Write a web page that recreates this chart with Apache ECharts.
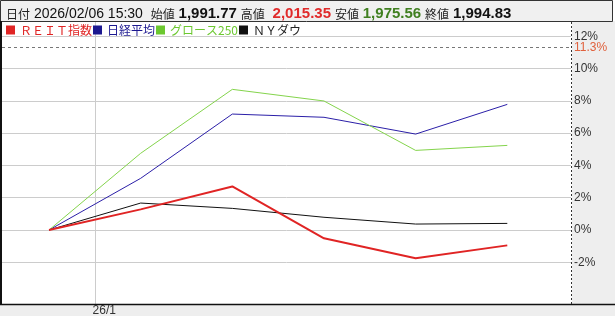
<!DOCTYPE html>
<html>
<head>
<meta charset="utf-8">
<script src="https://cdn.jsdelivr.net/npm/echarts@6/dist/echarts.min.js"></script>
<style>
html,body{margin:0;padding:0;background:#fff;}
#c{width:615px;height:316px;}
</style>
</head>
<body>
<div id="c"></div>
<script>
// ---- data ----
const seriesNames = ['ＲＥＩＴ指数', '日経平均', 'グロース250', 'ＮＹダウ'];
const pointIndex = [0, 1, 2, 3, 4, 5];
const reit   = [0, 1.28, 2.70, -0.51, -1.75, -0.95];
const nikkei = [0, 3.20, 7.18, 6.98, 5.94, 7.78];
const growth = [0, 4.75, 8.71, 7.99, 4.93, 5.24];
const nydow  = [0, 1.67, 1.34, 0.79, 0.37, 0.41];
const yTicks = [-2, 0, 2, 4, 6, 8, 10, 12];
const refLevel = [11.3];
const xTickValues = [0.51];
const xTickLabels = ['26/1'];
const header = {
  date: '2026/02/06 15:30',
  open: '1,991.77', high: '2,015.35', low: '1,975.56', close: '1,994.83'
};

const colors = ['#e02424', '#2b1fa8', '#84d44c', '#111111'];
const legendTextColors = ['#e02424', '#1c1890', '#6cc830', '#222222'];
const seriesData = [reit, nikkei, growth, nydow];

const chart = echarts.init(document.getElementById('c'), null, {renderer: 'canvas'});

const latin = '"Liberation Sans", Arial, sans-serif';
const cjk = '"Noto Sans CJK JP", sans-serif';

const series = seriesData.map((arr, k) => ({
  name: seriesNames[k],
  type: 'line',
  data: pointIndex.map((x, i) => [x, arr[i]]),
  symbol: 'none',
  z: k === 0 ? 4 : 3 - (k === 3 ? 0 : 0),
  lineStyle: {color: colors[k], width: k === 0 ? 2 : 1},
  itemStyle: {color: colors[k]},
  emphasis: {disabled: true}
}));

// helper series for gridlines / labels
series.push({
  name: '__grid',
  type: 'line',
  data: [],
  silent: true,
  markLine: {
    silent: true,
    symbol: 'none',
    z: 1,
    animation: false,
    data: [
      ...yTicks.map(v => ({
        yAxis: v,
        lineStyle: {color: '#cccccc', width: 1, type: 'solid'},
        label: {
          show: true, position: 'end', distance: 3,
          formatter: v + '%', color: '#333', fontSize: 12,
          fontFamily: latin, padding: [3, 0, 0, 0]
        }
      })),
      ...refLevel.map(v => ({
        yAxis: v,
        lineStyle: {color: '#777', width: 1, type: [3, 3]},
        label: {
          show: true, position: 'end', distance: 3,
          formatter: v + '%', color: '#e0603c', fontSize: 12,
          fontFamily: latin, padding: [3, 0, 0, 0]
        }
      })),
      ...xTickValues.map((v, i) => ({
        xAxis: v,
        lineStyle: {color: '#cccccc', width: 1, type: 'solid'},
        label: {
          show: true, position: 'start', distance: 1,
          formatter: xTickLabels[i], color: '#333', fontSize: 12,
          fontFamily: latin, padding: [0, 0, 0, 17]
        }
      }))
    ]
  }
});

const option = {
  animation: false,
  backgroundColor: '#fff',
  title: {
    left: 6, top: 5, padding: 0,
    text: '{j|日付} {n|' + header.date + '}  {j|始値} {b|' + header.open +
          '} {j|高値}  {r|' + header.high + '} {j|安値} {g|' + header.low +
          '} {j|終値} {b|' + header.close + '}',
    textStyle: {
      fontSize: 14, fontFamily: latin, color: '#222', fontWeight: 'normal',
      rich: {
        j: {fontFamily: cjk, fontSize: 12, color: '#222', lineHeight: 18},
        n: {fontFamily: latin, fontSize: 14, color: '#111', lineHeight: 18},
        b: {fontFamily: latin, fontSize: 15, fontWeight: 'bold', color: '#111', lineHeight: 18},
        r: {fontFamily: latin, fontSize: 15, fontWeight: 'bold', color: '#e02a2a', lineHeight: 18},
        g: {fontFamily: latin, fontSize: 15, fontWeight: 'bold', color: '#3f7f1f', lineHeight: 18}
      }
    }
  },
  legend: {
    left: 6, top: 24, padding: 0,
    itemWidth: 9, itemHeight: 9, itemGap: 1,
    icon: 'rect',
    selectedMode: false,
    data: seriesNames.map((n, k) => ({
      name: n,
      itemStyle: {color: colors[k] === '#84d44c' ? '#6cc830' : (k === 1 ? '#1c1890' : colors[k])},
      textStyle: {color: legendTextColors[k]}
    })),
    textStyle: {fontSize: 12, fontFamily: cjk, backgroundColor: '#fff'}
  },
  grid: {left: 2, right: 44, top: 22, bottom: 12, containLabel: false},
  xAxis: {
    type: 'value', min: -0.5128, max: 5.695,
    axisLine: {show: false}, axisTick: {show: false},
    axisLabel: {show: false}, splitLine: {show: false}
  },
  yAxis: {
    type: 'value', min: -4.58, max: 12.88,
    axisLine: {show: false}, axisTick: {show: false},
    axisLabel: {show: false}, splitLine: {show: false}
  },
  graphic: [
    {type: 'rect', z: 0, silent: true,
     shape: {x: 572, y: 21, width: 43, height: 284}, style: {fill: '#eeeeee'}},
    {type: 'rect', z: 0, silent: true,
     shape: {x: 0, y: 304, width: 615, height: 12}, style: {fill: '#eeeeee'}},
    {type: 'rect', z: 0, silent: true,
     shape: {x: 0.5, y: 0.5, width: 612, height: 21}, style: {fill: '#f0f0f0', stroke: '#333', lineWidth: 1}},
    {type: 'line', z: 10, silent: true,
     shape: {x1: 1, y1: 21, x2: 1, y2: 304}, style: {stroke: '#111', lineWidth: 2}},
    {type: 'line', z: 10, silent: true,
     shape: {x1: 0, y1: 304.5, x2: 615, y2: 304.5}, style: {stroke: '#111', lineWidth: 1.5}},
    {type: 'line', z: 10, silent: true,
     shape: {x1: 571.5, y1: 22, x2: 571.5, y2: 304}, style: {stroke: '#333', lineWidth: 1, lineDash: [2, 2]}}
  ],
  series: series
};
chart.setOption(option);
</script>
</body>
</html>
